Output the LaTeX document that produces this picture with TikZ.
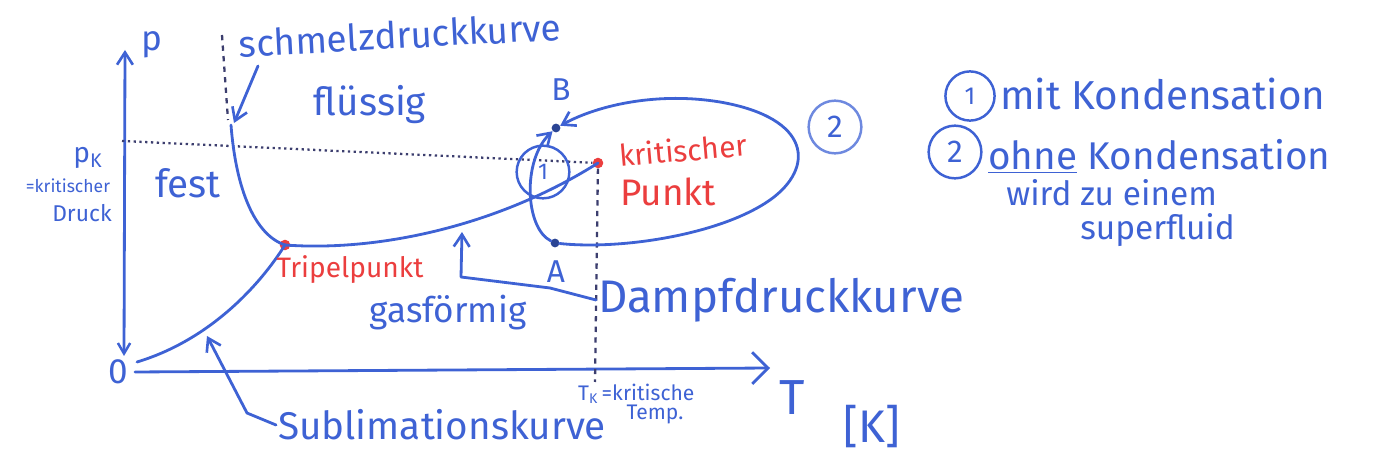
\documentclass[tikz,border=0pt]{standalone}
\usepackage{fontspec}
\setmainfont{Fira Sans}
\usetikzlibrary{arrows.meta}
\definecolor{ink}{RGB}{62,98,212}
\definecolor{redink}{RGB}{235,62,62}
\definecolor{dotink}{RGB}{60,62,110}
\tikzset{
  pen/.style={draw=ink, line width=1.6pt, line cap=round, line join=round},
  barb/.style={-{Straight Barb[length=7pt,width=9pt,line width=1.5pt]}},
  hand/.style={text=ink, inner sep=1pt},
  redhand/.style={text=redink, inner sep=1pt},
  dotline/.style={draw=dotink, line width=1.3pt, dotted},
  dashline/.style={draw=dotink, line width=1.3pt, dash pattern=on 3pt off 3pt},
  dotpt/.style={circle, fill=#1, inner sep=0pt, minimum size=6pt},
  circnum/.style={circle, draw=ink, line width=1.4pt, text=ink, inner sep=1pt},
}
\newcommand{\fs}[1]{\fontsize{#1}{#1}\selectfont}
\begin{document}
\begin{tikzpicture}[x=0.02cm,y=-0.02cm]
\useasboundingbox (0,0) rectangle (1379,472);
% coordinates
\coordinate (ytop) at (125,50);
\coordinate (ybot) at (124,356);
\coordinate (xstart) at (135,372);
\coordinate (xend) at (770,368);
\coordinate (meltTop) at (231,125);
\coordinate (subStart) at (137,362);
\coordinate (pkA) at (122,141);
\coordinate (dashTop) at (222,35);
\coordinate (dashBot) at (228,120);
\coordinate (tkBot) at (595,382);
\coordinate (meltArrowTail) at (258,66);
\coordinate (meltArrowTip) at (234,123);
\coordinate (vapArrowTip) at (462,232);
\coordinate (vapBend1) at (550,288);
\coordinate (vapBend2) at (461,277);
\coordinate (subBend) at (247,413);
\coordinate (subArrowTip) at (207,336);
% points
\node[dotpt=redink] (triple) at (285,245) {};
\node[dotpt=redink] (crit) at (598,163) {};
\node[dotpt=ink!70!black, minimum size=5pt] (A) at (555,243) {};
\node[dotpt=ink!70!black, minimum size=5pt] (B) at (556,128) {};
% axes
\draw[pen, {Straight Barb[length=7pt,width=9pt,line width=1.5pt]}-{Straight Barb[length=6pt,width=7pt,line width=1.4pt]}] (ytop) -- (ybot);
\draw[pen, -{Straight Barb[length=9pt,width=18pt,line width=1.6pt]}] (xstart) -- (xend);
% dotted / dashed guides
\draw[dotline] (pkA) -- (crit);
\draw[dashline] (dashTop) -- (dashBot);
\draw[dashline] (crit) -- (tkBot);
% phase curves
\draw[pen] (meltTop) .. controls (236,190) and (255,235) .. (triple.center);
\draw[pen] (subStart) .. controls (210,340) and (260,285) .. (triple.center);
\draw[pen] (triple.center) .. controls (380,252) and (500,225) .. (crit.center);
% path 1 and 2
\draw[pen, barb] (A) .. controls (525,228) and (522,160) .. (B);
\draw[pen, barb] (A) .. controls (620,250) and (720,235) .. (770,200)
   .. controls (815,168) and (812,118) .. (720,102)
   .. controls (660,92) and (600,104) .. (B);
\node[circnum, minimum width=22pt, minimum height=30pt, inner sep=0pt, font=\fs{13}] (c1) at (543,172) {1};
\node[circnum, minimum size=30pt, inner sep=0pt, font=\fs{18}, draw=ink!75] (c2) at (835,127) {2};
% labels
\node[hand, font=\fs{20}] (p) at (152,45) {p};
\node[hand, font=\fs{20}] (zero) at (118,372) {0};
\node[hand, font=\fs{16}] (pk) at (88,158) {p$_\mathrm{K}$};
\node[hand, font=\fs{10}] (pk2) at (68,186) {=kritischer};
\node[hand, font=\fs{13}] (pk3) at (82,213) {Druck};
\node[hand, font=\fs{21}, rotate=3] (schmelz) at (400,35) {schmelzdruckkurve};
\node[hand, font=\fs{22}] (fl) at (370,105) {flüssig};
\node[hand, font=\fs{22}] (fest) at (188,183) {fest};
\node[hand, font=\fs{20}] (gas) at (448,313) {gasförmig};
\node[redhand, font=\fs{16}] (tripel) at (350,270) {Tripelpunkt};
\node[redhand, font=\fs{17}, rotate=5, inner sep=0pt] (kr) at (683,150) {kritischer};
\node[redhand, font=\fs{21}, inner sep=0pt] (pu) at (668,192) {Punkt};
\node[hand, font=\fs{18}] (Alab) at (556,272) {A};
\node[hand, font=\fs{18}] (Blab) at (561,90) {B};
\node[hand, font=\fs{26}, anchor=west] (dampf) at (596,300) {Dampfdruckkurve};
\node[hand, font=\fs{22}, anchor=west] (subl) at (276,425) {Sublimationskurve};
\node[hand, font=\fs{12}, anchor=west] (tk) at (576,394) {T$_\mathrm{K}$\,=kritische};
\node[hand, font=\fs{12}] (temp) at (655,414) {Temp.};
\node[hand, font=\fs{28}] (T) at (792,398) {T};
\node[hand, font=\fs{26}] (K) at (872,427) {[K]};
% connectors to labels
\draw[pen, barb] (meltArrowTail) -- (meltArrowTip);
\draw[pen, barb] (dampf.west) -- (vapBend1) -- (vapBend2) -- (vapArrowTip);
\draw[pen, barb] (subl.west) -- (subBend) -- (subArrowTip);
% legend
\node[circnum, minimum width=24pt, minimum height=28pt, inner sep=0pt, font=\fs{14}] (l1) at (970,96) {1};
\node[hand, font=\fs{23}, anchor=west] (l1t) at (998,94) {mit Kondensation};
\node[circnum, minimum size=30pt, inner sep=0pt, font=\fs{18}] (l2) at (955,152) {2};
\node[hand, font=\fs{22}, anchor=west, inner sep=0pt] (l2t) at (988,156) {\underline{ohne} Kondensation};
\node[hand, font=\fs{19}, anchor=west, inner sep=0pt] (l3t) at (1006,193) {wird zu einem};
\node[hand, font=\fs{19}, anchor=west, inner sep=0pt] (l4t) at (1080,230) {superfluid};
\end{tikzpicture}
\end{document}
